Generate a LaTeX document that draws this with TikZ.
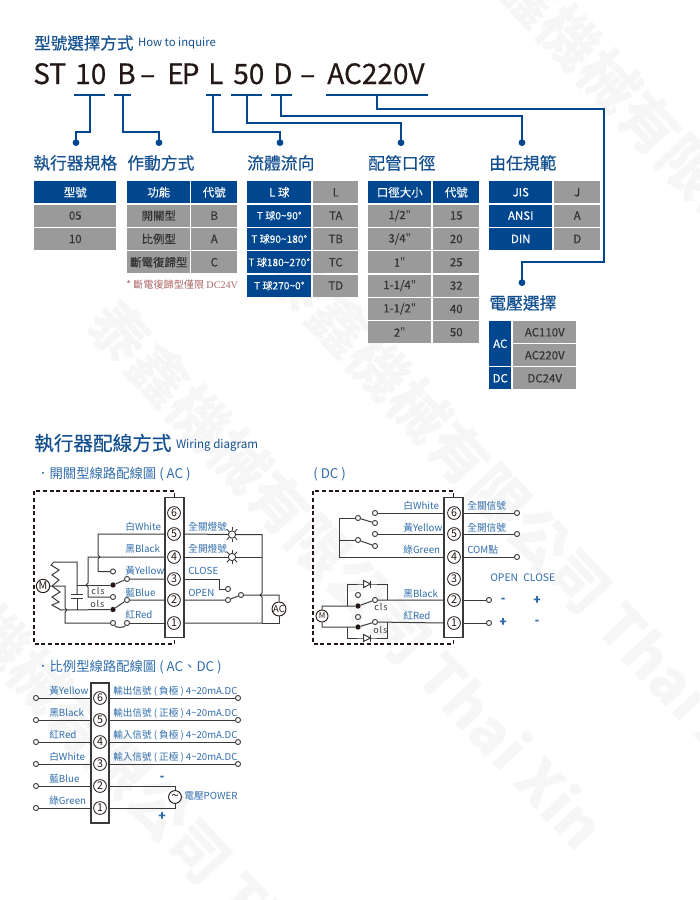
\documentclass[tikz,border=0pt]{standalone}
\usepackage{fontspec}
\setmainfont[FakeBold=0.1]{Noto Sans CJK TC}
\newfontfamily\notefont{Liberation Serif}
\newfontfamily\headfont[FakeBold=0.45]{Noto Sans CJK TC}
\newfontfamily\plainfont{Noto Sans CJK TC}
\newcommand{\inch}{{\plainfont"}}
\usepackage{xcolor}
\usetikzlibrary{arrows.meta,positioning}
\definecolor{navy}{HTML}{00478F}
\definecolor{titleblue}{HTML}{14508F}
\definecolor{labblue}{HTML}{2F6CAB}
\definecolor{cellgray}{HTML}{9A9A9A}
\definecolor{wirec}{HTML}{3A3A3A}
\definecolor{inkc}{HTML}{231815}
\begin{document}
\begin{tikzpicture}[x=0.75pt,y=-0.75pt,>={Circle[length=5pt,width=5pt]},
  marktext/.style={font=\plainfont\fontsize{44}{44}\bfseries\selectfont,text=black!3.5,rotate=-47,anchor=west,inner sep=0},
  heading/.style={font=\headfont\fontsize{12.6}{14}\selectfont,text=titleblue,anchor=west,inner sep=0},
  codetext/.style={font=\headfont\fontsize{21}{24}\selectfont,text=inkc,anchor=base west,inner sep=0},
  conn/.style={draw=navy,line width=1pt},
  headcell/.style={fill=navy,text=white,anchor=north west,inner sep=0,minimum height=16.5pt,font=\fontsize{8.6}{10}\selectfont},
  graycell/.style={fill=cellgray,text=black!80,anchor=north west,inner sep=0,minimum height=16.5pt,font=\fontsize{8.6}{10}\selectfont},
  cw/.style={minimum width=#1*0.75pt},
  wire/.style={draw=wirec,line width=0.75pt},
  lab/.style={font=\plainfont\fontsize{7.3}{9}\selectfont,text=labblue,anchor=west,inner sep=0},
  subhead/.style={font=\plainfont\fontsize{10}{12}\selectfont,text=labblue,anchor=west,inner sep=0},
  stripbox/.style={draw=wirec,line width=0.8pt,fill=white,minimum width=14.25pt,minimum height=105pt,inner sep=0},
  term/.style={circle,draw=inkc,line width=0.6pt,fill=white,minimum size=9.6pt,inner sep=0,font=\plainfont\fontsize{8}{8}\selectfont,text=inkc},
  contact/.style={circle,draw=wirec,line width=0.7pt,fill=white,minimum size=3.8pt,inner sep=0},
  closedot/.style={circle,fill=inkc,minimum size=4pt,inner sep=0},
  lamp/.style={circle,draw=wirec,line width=0.7pt,fill=white,minimum size=5.5pt,inner sep=0},
  motor/.style={circle,draw=inkc,line width=0.7pt,fill=white,inner sep=0,text=inkc},
  casebox/.style={draw=inkc,line width=0.8pt,dash pattern=on 3pt off 2pt},
  tiny/.style={font=\plainfont\fontsize{6.8}{8}\selectfont,text=wirec,anchor=west,inner sep=0}]
\useasboundingbox (0,0) rectangle (700,900);
\begin{scope}
\clip (0,0) rectangle (700,900);
\foreach \i/\x/\y in {1/470/-70,2/280/260,3/100/310,4/-100/530,5/720/130}
  \node[marktext] (mark\i) at (\x,\y) {泰鑫機械有限公司 Thai Xin};
\end{scope}

\node[heading,font=\headfont\fontsize{12.4}{14}\selectfont] (title) at (34,43) {型號選擇方式};
\node[heading,font=\plainfont\fontsize{8.5}{11}\selectfont,right=3pt of title] (titleen) {How to inquire};
\foreach \name/\x/\txt in {st/33/ST,size/75/10,act/117/B,dasha/140/–,ep/167/E\kern-1.5pt P,flow/208/L,port/233/50,std/273/D,dashb/300/–,volt/327/AC220V}
  \node[codetext] (\name) at (\x,84) {\txt};

\foreach \x/\xx in {74/105,114/131,206/221,231/262,271/292,326/428}
  \draw[conn] (\x,95) -- (\xx,95);
\foreach \name/\x in {msize/90,mact/123,mflow/213,mport/247,mstd/281,mvolt/377}
  \coordinate (\name) at (\x,95);
\foreach \name/\x/\txt in {hsize/33/執行器規格,hact/127/作動方式,hflow/247/流體流向,hport/368/配管口徑,hstd/489/由任規範}
  \node[heading] (\name) at (\x,163) {\txt};
\node[heading] (hvolt) at (489,303) {電壓選擇};
\coordinate (dsize) at (76,146);
\coordinate (dact) at (159,146);
\coordinate (dflow) at (280,146);
\coordinate (dport) at (401,146);
\coordinate (dstd) at (522,146);
\coordinate (dvolt) at (522,286);
\draw[conn,->] (msize) |- (76,132) -- (dsize);
\draw[conn,->] (mact) |- (159,132) -- (dact);
\draw[conn,->] (mflow) |- (280,132) -- (dflow);
\draw[conn,->] (mport) |- (401,123) -- (dport);
\draw[conn,->] (mstd) |- (522,116) -- (dstd);
\draw[conn,->] (mvolt) |- (604,109) |- (522,262) -- (dvolt);

\node[headcell,cw=82] (modelh) at (34,181) {型號};
\foreach \i/\a in {1/05,2/10}
  \node[graycell,cw=82] (model\i) at (34,{181+23.33*\i}) {\a};
\node[headcell,cw=63] (funch) at (127,181) {功能};
\node[headcell,cw=46] (fcodeh) at (191,181) {代號};
\foreach \i/\a/\b in {1/開關型/B,2/比例型/A,3/斷電復歸型/C}{
  \node[graycell,cw=63] (func\i) at (127,{181+23.33*\i}) {\a};
  \node[graycell,cw=46] (fcode\i) at (191,{181+23.33*\i}) {\b};
}
\node[anchor=west,inner sep=0,text=red!45!black!60!white,font=\plainfont\fontsize{7.6}{10}\selectfont] (fnote) at (126,285) {* 斷電復歸型僅限 {\notefont DC24V}};
\node[headcell,cw=64] (ballh) at (247,181) {L 球};
\node[graycell,cw=45] (bcodeh) at (313,181) {L};
\foreach \i/\a/\b in {1/T 球0\textasciitilde90°/TA,2/T 球90\textasciitilde180°/TB,3/T 球180\textasciitilde270°/TC,4/T 球270\textasciitilde0°/TD}{
  \node[headcell,cw=64,font=\fontsize{7.6}{10}\selectfont] (ball\i) at (247,{181+23.33*\i}) {\a};
  \node[graycell,cw=45] (bcode\i) at (313,{181+23.33*\i}) {\b};
}
\node[headcell,cw=63] (sizeh) at (368,181) {口徑大小};
\node[headcell,cw=46] (pcodeh) at (433,181) {代號};
\foreach \i/\a/\b in {1/1\slash 2\inch/15,2/3\slash 4\inch/20,3/1\inch/25,4/1-1\slash 4\inch/32,5/1-1\slash 2\inch/40,6/2\inch/50}{
  \node[graycell,cw=63] (psize\i) at (368,{181+23.33*\i}) {\a};
  \node[graycell,cw=46] (pcode\i) at (433,{181+23.33*\i}) {\b};
}
\foreach \i/\a/\b in {0/JIS/J,1/ANSI/A,2/DIN/D}{
  \node[headcell,cw=63] (std\i) at (489,{181+23.33*\i}) {\a};
  \node[graycell,cw=46] (scode\i) at (554,{181+23.33*\i}) {\b};
}
\node[headcell,cw=22,minimum height=33.75pt] (vac) at (489,321) {AC};
\node[headcell,cw=22] (vdc) at (489,367) {DC};
\node[graycell,cw=63] (v110) at (513,321) {AC110V};
\node[graycell,cw=63] (v220) at (513,344) {AC220V};
\node[graycell,cw=63] (v24) at (513,367) {DC24V};

\node[heading,font=\headfont\fontsize{14.7}{17}\selectfont] (wiring) at (34,443) {執行器配線方式};
\node[heading,font=\plainfont\fontsize{8.7}{11}\selectfont,right=3pt of wiring,yshift=-1.5pt] (wiringen) {Wiring diagram};
\node[subhead] (suba) at (36,474) {．開關型線路配線圖 ( AC )};
\node[subhead] (subb) at (313,474) {( DC )};
\node[subhead] (subc) at (36,667) {．比例型線路配線圖 ( AC、DC )};

\node[stripbox] (stripa) at (174.5,567.5) {};
\foreach \n/\y in {6/513,5/534,4/557,3/579,2/600,1/623}
  \node[term] (a\n) at (174,\y) {\n};
\draw[casebox] (stripa.north) |- (34,491) |- (174.5,644) -- (stripa.south);
\node[motor,minimum size=10pt,font=\plainfont\fontsize{8}{8}\selectfont] (ma) at (43,586) {M};
\coordinate (mj) at (52,586);
\coordinate (ctop) at (77,562);
\coordinate (cup) at (77,594);
\coordinate (cdn) at (77,598);
\node[contact] (ow) at (113,571.5) {};
\node[closedot] (cy) at (113,585) {};
\node[contact] (ob) at (113,597) {};
\node[closedot] (cb) at (113,609.5) {};
\node[contact] (oy) at (127,579) {};
\node[contact] (obl) at (127,600) {};
\node[contact] (or) at (113,623) {};
\node[contact] (orr) at (127,623) {};
\draw[wire] (ma) -- (mj) -- (65,586) -- (65,608) .. controls (67.5,608.5) and (67.5,611.5) .. (65,612) |- (or);
\draw[wire] (mj) -- (59,580) -- (52,575) -- (59,570) -- (51,565) -- (54,562) -- (ctop) -- (cup);
\draw[wire] (71,594) -- (83,594) (71,598) -- (83,598);
\draw[wire] (mj) -- (60,592) -- (52,597) -- (59,602) -- (52,605) -- (61,610) -- (cb);
\draw[wire] (cdn) -- (77,610);
\draw[wire] (ctop |- cy) -- (cy);
\draw[wire] (stripa.west |- a4) -- (88,557) -- (88,583) .. controls (85.5,583.5) and (85.5,586.5) .. (88,587) |- (ob);
\draw[wire] (stripa.west |- a5) -| (98,555) .. controls (100.5,555.5) and (100.5,558.5) .. (98,559) |- (ow);
\draw[wire] (cy) -- (oy) -- (stripa.west |- a3);
\draw[wire] (cb) -- (obl) -- (stripa.west |- a2);
\draw[wire] (or) .. controls (116,628) and (124,628) .. (orr);
\draw[wire] (orr) -- (stripa.west |- a1);
\foreach \n/\y/\txt in {w/527/白White,k/549/黑Black,y/571/黃Yellow,b/593/藍Blue,r/615/紅Red}
  \node[lab] (la\n) at (125,\y) {\txt};
\node[tiny] (clsa) at (91,591) {c\kern.7pt l\kern.7pt s};
\node[tiny] (olsa) at (90,604) {o\kern.7pt l\kern.7pt s};
\node[lamp] (lamp5) at (232,534.5) {};
\node[lamp] (lamp4) at (232,557) {};
\foreach \l in {lamp5,lamp4}
  \foreach \a in {0,45,...,315}
    \draw[wire] (\l.\a) -- ++(-\a:3.2);
\coordinate (rbus) at (262,534.5);
\coordinate (rbot) at (262,623);
\node[contact] (sc) at (228,589) {};
\node[contact] (so) at (228,600) {};
\node[contact] (sm) at (241,595) {};
\node[motor,minimum size=10.5pt,font=\plainfont\fontsize{7}{7}\selectfont] (acm) at (279,609) {AC};
\draw[wire] (stripa.east |- a5) -- (lamp5) -- (rbus) -- (262,593) .. controls (259.5,593.5) and (259.5,596.5) .. (262,597) -- (rbot) -- (stripa.east |- a1);
\draw[wire] (stripa.east |- a4) -- (lamp4) -- (262,557);
\draw[wire] (stripa.east |- a3) -| (219,589) -- (sc);
\draw[wire] (stripa.east |- a2) -- (so) -- (sm) -- (279,595) -- (acm);
\draw[wire] (acm) |- (rbot);
\foreach \n/\y/\txt in {f/527/全關燈號,g/549/全開燈號,c/571/CLOSE,o/593/OPEN}
  \node[lab] (ra\n) at (188,\y) {\txt};

\node[stripbox] (stripb) at (453.5,567.5) {};
\foreach \n/\y in {6/513,5/534,4/557,3/579,2/600,1/623}
  \node[term] (b\n) at (454,\y) {\n};
\draw[casebox] (stripb.north) |- (313,491) |- (453.5,644) -- (stripb.south);
\node[contact] (s6) at (375,513) {};
\node[contact] (sa) at (358,518) {};
\node[contact] (sb) at (375,523) {};
\node[contact] (s5) at (375,534) {};
\node[contact] (sd) at (358,540) {};
\node[contact] (se) at (375,546) {};
\draw[wire] (stripb.west |- b6) -- (s6);
\draw[wire] (stripb.west |- b5) -- (s5);
\draw[wire] (sa) -- (sb);
\draw[wire] (sd) -- (se);
\draw[wire] (sa) -| (339,557) -- (stripb.west |- b4);
\draw[wire] (sd) -- (339,540);
\node[motor,minimum size=9pt,font=\plainfont\fontsize{6}{6}\selectfont] (mb) at (322,616) {M};
\node[closedot] (dp) at (358,606) {};
\node[closedot] (dq) at (358,627) {};
\node[contact] (fp) at (358,595) {};
\node[contact] (fq) at (358,617) {};
\node[contact] (cp) at (375,600) {};
\node[contact] (cq) at (375,622) {};
\coordinate (dtop) at (367,584);
\coordinate (dbot) at (367,638);
\draw[wire] (mb.north) |- (dp) -- (cp) -- (stripb.west |- b2);
\draw[wire] (mb.south) |- (dq) -- (cq) -- (stripb.west |- b1);
\draw[wire] (347,606) |- (dtop) -| (387,600);
\draw[wire] (347,627) |- (dbot) -| (387,622);
\foreach \d in {dtop,dbot}{
  \draw[wire,fill=white] (\d) ++(-3.5,-3.5) -- ++(7,3.5) -- ++(-7,3.5) -- cycle;
  \draw[wire] (\d) ++(3.5,-3.5) -- ++(0,7);
}
\foreach \n/\y/\txt in {w/506/白White,y/528/黃Yellow,g/550/綠Green,k/594/黑Black,r/616/紅Red}
  \node[lab] (lb\n) at (403,\y) {\txt};
\node[tiny] (clsb) at (374,607) {c\kern.7pt l\kern.7pt s};
\node[tiny] (olsb) at (373,630) {o\kern.7pt l\kern.7pt s};
\foreach \n/\x in {6/517,5/517,4/517,2/489,1/489}{
  \node[contact] (tb\n) at (\x,0 |- b\n) {};
  \draw[wire] (stripb.east |- b\n) -- (tb\n);
}
\foreach \n/\y/\txt in {f/506/全關信號,g/528/全開信號,c/550/COM點}
  \node[lab] (rb\n) at (467,\y) {\txt};
\node[lab,font=\plainfont\fontsize{7.8}{9}\selectfont] (bopen) at (490,578) {OPEN};
\node[lab,font=\plainfont\fontsize{7.8}{9}\selectfont] (bclose) at (523,578) {CLOSE};
\foreach \n/\x/\y/\txt in {pa/503/600/-,pb/537/600/+,pc/503/622/+,pd/537/622/-}
  \node[lab,anchor=center,font=\fontsize{9}{10}\bfseries\selectfont] (\n) at (\x,\y) {\txt};

\node[stripbox,minimum width=13.5pt] (stripc) at (100,753) {};
\foreach \n/\y in {6/698,5/720,4/742,3/764,2/786,1/808}
  \node[term] (c\n) at (100,\y) {\n};
\foreach \n in {6,5,4,3,2,1}{
  \node[contact] (lc\n) at (36,0 |- c\n) {};
  \draw[wire] (lc\n) -- (stripc.west |- c\n);
}
\foreach \n in {6,5,4,3}{
  \node[contact] (rc\n) at (238,0 |- c\n) {};
  \draw[wire] (stripc.east |- c\n) -- (rc\n);
}
\node[motor,minimum size=9.6pt,font=\plainfont\fontsize{10}{10}\selectfont] (ps) at (175,797) {\textasciitilde};
\draw[wire] (stripc.east |- c2) -| (ps);
\draw[wire] (stripc.east |- c1) -| (ps);
\foreach \n/\y/\txt in {y/691/黃Yellow,k/713/黑Black,r/735/紅Red,w/757/白White,b/779/藍Blue,g/801/綠Green}
  \node[lab] (lcl\n) at (49,\y) {\txt};
\foreach \n/\y/\txt in {a/691/輸出信號 ( 負極 ) 4\textasciitilde20mA.DC,b/713/輸出信號 ( 正極 ) 4\textasciitilde20mA.DC,c/735/輸入信號 ( 負極 ) 4\textasciitilde20mA.DC,d/757/輸入信號 ( 正極 ) 4\textasciitilde20mA.DC}
  \node[lab,font=\plainfont\fontsize{7.2}{9}\selectfont] (rcl\n) at (113,\y) {\txt};
\node[lab,anchor=center,font=\fontsize{9}{10}\bfseries\selectfont] (cminus) at (162,778) {-};
\node[lab,anchor=center,font=\fontsize{9}{10}\bfseries\selectfont] (cplus) at (162,816) {+};
\node[lab] (powerl) at (184,796) {電壓POWER};
\end{tikzpicture}
\end{document}
